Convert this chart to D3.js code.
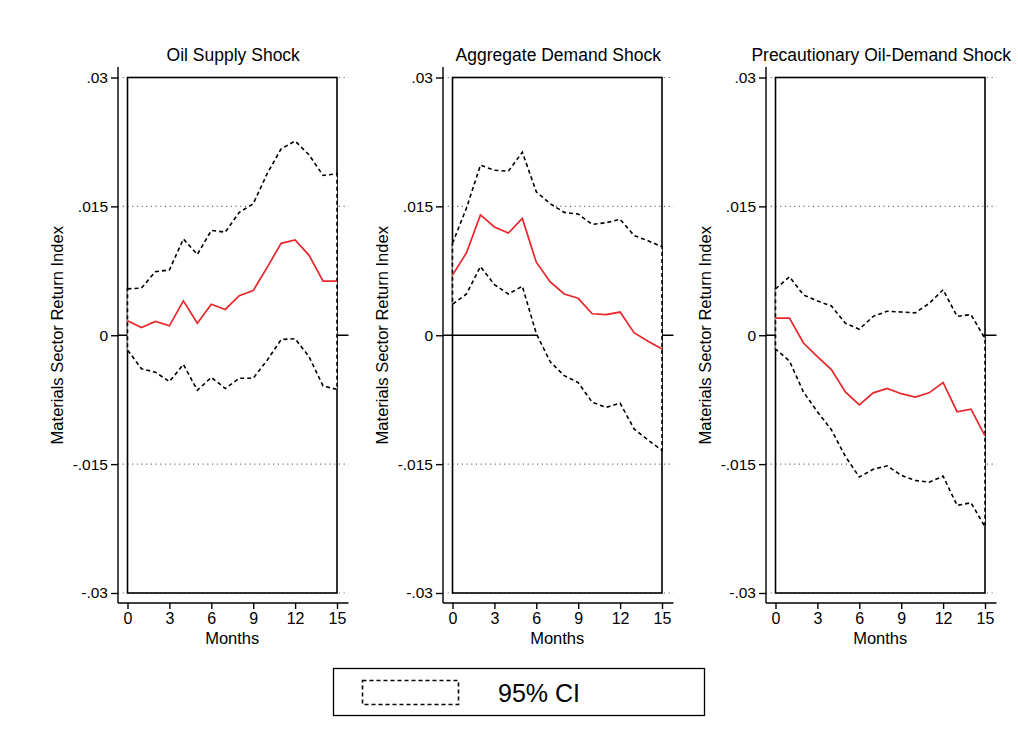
<!DOCTYPE html>
<html>
<head>
<meta charset="utf-8">
<script src="https://cdn.jsdelivr.net/npm/d3@7"></script>
<style>
  body { margin: 0; background: #fff; }
  text { font-family: "Liberation Sans", Arial, Helvetica, sans-serif; fill: #000; }
</style>
</head>
<body>
<div id="chart"></div>
<script>
// impulse responses, months 0..15
const months = d3.range(0, 16);

const titles = ["Oil Supply Shock", "Aggregate Demand Shock", "Precautionary Oil-Demand Shock"];

const supplyIrf   = [0.0017, 0.0009, 0.0016, 0.0011, 0.0040, 0.0014, 0.0036, 0.0030, 0.0046, 0.0052, 0.0079, 0.0107, 0.0111, 0.0093, 0.0063, 0.0063];
const supplyUpper = [0.0054, 0.0055, 0.0074, 0.0076, 0.0112, 0.0094, 0.0122, 0.0120, 0.0143, 0.0153, 0.0188, 0.0217, 0.0226, 0.0210, 0.0186, 0.0188];
const supplyLower = [-0.0017, -0.0039, -0.0043, -0.0054, -0.0034, -0.0064, -0.0049, -0.0062, -0.0050, -0.0050, -0.0029, -0.0005, -0.0004, -0.0025, -0.0059, -0.0063];

const demandIrf   = [0.0070, 0.0096, 0.0140, 0.0126, 0.0119, 0.0136, 0.0085, 0.0062, 0.0048, 0.0043, 0.0025, 0.0024, 0.0027, 0.0003, -0.0007, -0.0016];
const demandUpper = [0.0107, 0.0148, 0.0198, 0.0192, 0.0191, 0.0213, 0.0167, 0.0153, 0.0143, 0.0141, 0.0129, 0.0131, 0.0135, 0.0116, 0.0110, 0.0103];
const demandLower = [0.0036, 0.0048, 0.0080, 0.0059, 0.0048, 0.0057, 0.0002, -0.0031, -0.0047, -0.0055, -0.0078, -0.0084, -0.0079, -0.0109, -0.0122, -0.0134];

const precIrf   = [0.0020, 0.0020, -0.0009, -0.0025, -0.0040, -0.0066, -0.0081, -0.0067, -0.0062, -0.0068, -0.0072, -0.0067, -0.0055, -0.0089, -0.0086, -0.0117];
const precUpper = [0.0054, 0.0068, 0.0047, 0.0040, 0.0034, 0.0014, 0.0007, 0.0022, 0.0028, 0.0027, 0.0026, 0.0037, 0.0053, 0.0022, 0.0024, -0.0004];
const precLower = [-0.0016, -0.0030, -0.0066, -0.0089, -0.0110, -0.0141, -0.0165, -0.0156, -0.0152, -0.0163, -0.0169, -0.0171, -0.0164, -0.0198, -0.0195, -0.0223];

const yTicks = [-0.03, -0.015, 0, 0.015, 0.03];
const yTickLabels = ["-.03", "-.015", "0", ".015", ".03"];
const xTicks = [0, 3, 6, 9, 12, 15];

const panels = [
    { title: titles[0], irf: supplyIrf, upper: supplyUpper, lower: supplyLower },
    { title: titles[1], irf: demandIrf, upper: demandUpper, lower: demandLower },
    { title: titles[2], irf: precIrf, upper: precUpper, lower: precLower }
];

const width = 1018, height = 747;
const axisXs = [118, 443, 766];   // left edge (y axis line) of each panel

const svg = d3.select("#chart")
    .append("svg")
    .attr("width", width)
    .attr("height", height);

const y = d3.scaleLinear()
    .domain([-0.03, 0.03])
    .range([593, 77.5]);

const axisTop = 67, axisBottomY = 603;

panels.forEach(function(p, i) {
    const ax = axisXs[i];
    const x0 = ax + 9.5, x15 = x0 + 209.5, right = x15 + 11.5;

    const x = d3.scaleLinear()
        .domain([0, 15])
        .range([x0, x15]);

    const g = svg.append("g");

    // dotted grid lines, solid zero line
    g.selectAll(".grid")
        .data(yTicks.filter(d => d !== 0))
        .join("line")
        .attr("x1", ax).attr("x2", right)
        .attr("y1", d => y(d)).attr("y2", d => y(d))
        .attr("stroke", "#666")
        .attr("stroke-width", 1.1)
        .attr("stroke-dasharray", "1.1,3.6");

    g.append("line")
        .attr("x1", ax).attr("x2", right)
        .attr("y1", y(0)).attr("y2", y(0))
        .attr("stroke", "#000")
        .attr("stroke-width", 1.4);

    // frame round the response window
    g.append("rect")
        .attr("x", x(0))
        .attr("y", y(0.03))
        .attr("width", x(15) - x(0))
        .attr("height", y(-0.03) - y(0.03))
        .attr("fill", "none")
        .attr("stroke", "#000")
        .attr("stroke-width", 1.6);

    // confidence band (white filled, dashed outline)
    const band = months.map((m, k) => [x(m), y(p.upper[k])])
        .concat(months.slice().reverse().map(m => [x(m), y(p.lower[m])]));

    g.append("path")
        .datum(band)
        .attr("d", d => "M" + d.join("L") + "Z")
        .attr("fill", "#fff")
        .attr("stroke", "#000")
        .attr("stroke-width", 1.6)
        .attr("stroke-dasharray", "4,3");

    // impulse response
    g.append("path")
        .datum(p.irf)
        .attr("fill", "none")
        .attr("stroke", "#e8262b")
        .attr("stroke-width", 1.7)
        .attr("d", d3.line()
            .x((d, k) => x(months[k]))
            .y(d => y(d)));

    // y axis
    const yAxis = g.append("g")
        .attr("transform", `translate(${ax},0)`)
        .call(d3.axisLeft(y)
            .tickValues(yTicks)
            .tickSize(7)
            .tickPadding(3)
            .tickFormat((d, k) => yTickLabels[k]));
    yAxis.select(".domain").remove();
    yAxis.selectAll("line").attr("stroke-width", 1.4);
    yAxis.selectAll("text")
        .style("font-size", "15.5px")
        .style("font-family", "'Liberation Sans', Arial, sans-serif");

    g.append("line")
        .attr("x1", ax).attr("x2", ax)
        .attr("y1", axisTop).attr("y2", axisBottomY)
        .attr("stroke", "#000")
        .attr("stroke-width", 1.4);

    // x axis
    const xAxis = g.append("g")
        .attr("transform", `translate(0,${axisBottomY})`)
        .call(d3.axisBottom(x)
            .tickValues(xTicks)
            .tickSize(6)
            .tickPadding(4));
    xAxis.select(".domain").remove();
    xAxis.selectAll("line").attr("stroke-width", 1.4);
    xAxis.selectAll("text")
        .style("font-size", "16px")
        .style("font-family", "'Liberation Sans', Arial, sans-serif");

    g.append("line")
        .attr("x1", ax).attr("x2", right)
        .attr("y1", axisBottomY).attr("y2", axisBottomY)
        .attr("stroke", "#000")
        .attr("stroke-width", 1.4);

    g.append("text")
        .attr("x", (x0 + x15) / 2)
        .attr("y", 644)
        .attr("text-anchor", "middle")
        .style("font-size", "16.5px")
        .text("Months");

    g.append("text")
        .attr("transform", `translate(${ax - 61},${y(0)}) rotate(-90)`)
        .attr("text-anchor", "middle")
        .attr("dy", "0.35em")
        .style("font-size", "16.5px")
        .text("Materials Sector Return Index");

    g.append("text")
        .attr("x", (ax + right) / 2)
        .attr("y", 61)
        .attr("text-anchor", "middle")
        .style("font-size", "17.5px")
        .text(p.title);
});

// legend
const legend = svg.append("g");
legend.append("rect")
    .attr("x", 333.5).attr("y", 668.5)
    .attr("width", 371).attr("height", 47)
    .attr("fill", "none")
    .attr("stroke", "#000")
    .attr("stroke-width", 1.3);
legend.append("rect")
    .attr("x", 362.5).attr("y", 680.5)
    .attr("width", 96).attr("height", 24)
    .attr("fill", "#fff")
    .attr("stroke", "#000")
    .attr("stroke-width", 1.6)
    .attr("stroke-dasharray", "4,3");
legend.append("text")
    .attr("x", 498)
    .attr("y", 702)
    .style("font-size", "25px")
    .text("95% CI");
</script>
</body>
</html>
